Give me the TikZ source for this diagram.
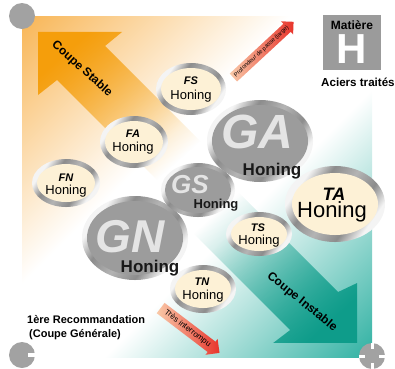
\documentclass[tikz,border=0pt]{standalone}
\usepackage{fontspec}
\setmainfont{Liberation Sans}
\usetikzlibrary{shapes.geometric,shapes.arrows,fadings,shadings}

\definecolor{orBg}{HTML}{F8B452}
\definecolor{orArr}{HTML}{F59E0B}
\definecolor{teBg}{HTML}{1DAA9A}
\definecolor{teArr}{HTML}{0E9C8A}
\definecolor{cream}{HTML}{FDF1D6}
\definecolor{blob}{HTML}{9C9C9C}
\definecolor{letter}{HTML}{E4E4E4}
\definecolor{boxgray}{HTML}{9B9B9B}
\definecolor{dotgray}{HTML}{A2A2A2}
\definecolor{arrLight}{HTML}{F9C9A8}
\definecolor{arrRed}{HTML}{E8342B}
\definecolor{mLight}{HTML}{F4F4F4}
\definecolor{mDark}{HTML}{8C8C8C}
\definecolor{mMid}{HTML}{B4B4B4}

\pgfdeclarehorizontalshading{bgdiag}{100bp}{color(0bp)=(orBg); color(14bp)=(orBg); color(42bp)=(white); color(58bp)=(white); color(88bp)=(teBg); color(100bp)=(teBg)}
\pgfdeclarehorizontalshading{metal}{100bp}{color(0bp)=(mLight); color(28bp)=(mLight); color(38bp)=(mDark); color(50bp)=(mMid); color(62bp)=(mDark); color(72bp)=(mLight); color(100bp)=(mLight)}
\tikzfading[name=arrfade, left color=transparent!0, right color=transparent!100]

\begin{document}
\begin{tikzpicture}[x=1pt,y=-1pt,
  ringsh/.style={ellipse, inner sep=0pt, shading=metal, shading angle=-35},
  creamin/.style={ellipse, inner sep=0pt, fill=cream},
  grayin/.style={ellipse, inner sep=0pt, fill=blob},
  flab/.style={inner sep=0pt, font=\fontsize{11}{11}\selectfont\bfseries\itshape},
  hon/.style={inner sep=0pt, font=\fontsize{13}{13}\selectfont},
  ghon/.style={inner sep=0pt, text=black!90, font=\fontsize{17}{17}\selectfont\bfseries},
  gletter/.style={inner sep=0pt, text=letter},
  bigtxt/.style={inner sep=0pt, font=\fontsize{12}{12}\selectfont\bfseries},
  boldtxt/.style={inner sep=0pt, font=\fontsize{12}{12}\selectfont\bfseries},
  recotxt/.style={inner sep=0pt, anchor=west, font=\fontsize{11}{11}\selectfont\bfseries},
  smallarr/.style={single arrow, single arrow head extend=3.5pt, inner xsep=2pt, inner ysep=2.5pt, left color=arrLight, right color=arrRed},
  dot/.style={circle, fill=dotgray, minimum size=26pt, inner sep=0pt}
]
\useasboundingbox (0,0) rectangle (395,368);

% background
\shade[shading=bgdiag, shading angle=-45] (22,16) rectangle (372,357);

% big arrows
\fill[orArr, path fading=arrfade, fading angle=-45]
  (38,32) -- (122,32) -- (105,46) -- (205,146) -- (157,180) -- (57,80) -- (38,95) -- cycle;
\fill[teArr, path fading=arrfade, fading angle=135]
  (357,343) -- (357,283) -- (338,292) -- (238,192) -- (190,230) -- (290,330) -- (273,343) -- cycle;
\node[bigtxt, rotate=-42] (cs) at (82,69) {Coupe Stable};
\node[bigtxt, rotate=-39] (ci) at (302,302) {Coupe Instable};

% small arrows
\node[smallarr, rotate=42.8, minimum height=76pt, font=\fontsize{5.8}{5.8}\selectfont] (pdp) at (261.5,51.5) {Profondeur de passe (large)};
\node[smallarr, rotate=-37.3, minimum height=74pt, font=\fontsize{8}{8}\selectfont] (ti) at (187.5,328.5) {Très interrompu};

% gray blobs
\node[ringsh, minimum width=106pt, minimum height=82pt] (ga) at (260,141) {};
\node[grayin, minimum width=96pt, minimum height=72pt] (gain) at (ga.center) {};
\node[gletter, font=\fontsize{48}{48}\selectfont\bfseries\itshape] (gal) at (257,132) {GA};
\node[ghon] (gah) at (272,171) {Honing};

\node[ringsh, minimum width=106pt, minimum height=84pt] (gn) at (135,238) {};
\node[grayin, minimum width=96pt, minimum height=74pt] (gnin) at (gn.center) {};
\node[gletter, font=\fontsize{46}{46}\selectfont\bfseries\itshape] (gnl) at (130,237) {GN};
\node[ghon] (gnh) at (150,268) {Honing};

\node[ringsh, minimum width=74pt, minimum height=54pt] (gs) at (198,190) {};
\node[grayin, minimum width=66pt, minimum height=46pt] (gsin) at (gs.center) {};
\node[gletter, font=\fontsize{26}{26}\selectfont\bfseries\itshape] (gsl) at (190,185) {GS};
\node[ghon, font=\fontsize{13}{13}\selectfont\bfseries] (gsh) at (216,205) {Honing};

% cream ellipses
\node[ringsh, minimum width=70pt, minimum height=52pt] (fs) at (191,89) {};
\node[creamin, minimum width=60pt, minimum height=42pt] (fsin) at (fs.center) {};
\node[flab] (fsl) at (191,81) {FS};
\node[hon] (fsh) at (191,96) {Honing};

\node[ringsh, minimum width=68pt, minimum height=52pt] (fa) at (134,142) {};
\node[creamin, minimum width=58pt, minimum height=42pt] (fain) at (fa.center) {};
\node[flab] (fal) at (133,134) {FA};
\node[hon] (fah) at (133,148) {Honing};

\node[ringsh, minimum width=68pt, minimum height=48pt] (fn) at (66,183) {};
\node[creamin, minimum width=58pt, minimum height=38pt] (fnin) at (fn.center) {};
\node[flab] (fnl) at (66,178) {FN};
\node[hon] (fnh) at (66,191) {Honing};

\node[ringsh, minimum width=100pt, minimum height=76pt] (ta) at (335,204) {};
\node[creamin, minimum width=86pt, minimum height=62pt] (tain) at (ta.center) {};
\node[flab, font=\fontsize{18}{18}\selectfont\bfseries\itshape] (tal) at (334,194) {TA};
\node[hon, font=\fontsize{22}{22}\selectfont] (tah) at (332,212) {Honing};

\node[ringsh, minimum width=66pt, minimum height=44pt] (ts) at (259,234) {};
\node[creamin, minimum width=56pt, minimum height=34pt] (tsin) at (ts.center) {};
\node[flab] (tsl) at (258,228) {TS};
\node[hon] (tsh) at (259,241) {Honing};

\node[ringsh, minimum width=66pt, minimum height=48pt] (tn) at (203,289) {};
\node[creamin, minimum width=56pt, minimum height=38pt] (tnin) at (tn.center) {};
\node[flab] (tnl) at (202,282) {TN};
\node[hon] (tnh) at (203,296) {Honing};

% material box
\node[fill=boxgray, minimum width=58pt, minimum height=55pt, inner sep=0pt, anchor=north west] (box) at (323,15) {};
\node[boldtxt] (mat) at (352,25) {Matière};
\node[inner sep=0pt, text=white, font=\fontsize{42}{42}\selectfont\bfseries] (hh) at (352,49) {H};
\node[boldtxt, anchor=west, font=\fontsize{11.6}{11.6}\selectfont\bfseries] (ac) at (321,82) {Aciers traités};

% recommendation
\node[recotxt] (r1) at (27,320) {1ère Recommandation};
\node[recotxt] (r2) at (29,335) {(Coupe Générale)};

% corner dots
\node[dot] (c1) at (22,16) {};
\node[dot] (c2) at (22,355) {};
\fill[white] (28,353) rectangle (36,357);
\node[dot] (c3) at (372,356) {};
\fill[white] (370.5,343) rectangle (373.5,349);
\fill[white] (370.5,363) rectangle (373.5,369);
\fill[white] (359,354.5) rectangle (365,357.5);
\fill[white] (379,354.5) rectangle (385,357.5);
\end{tikzpicture}
\end{document}
